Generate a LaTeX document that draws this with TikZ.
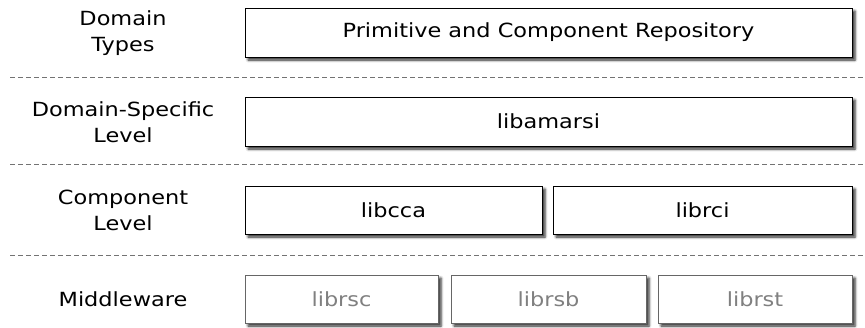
\documentclass[tikz,border=0pt]{standalone}
\usepackage{fontspec}
\setmainfont{DejaVu Sans}[FakeStretch=1.15]
\usetikzlibrary{shadows.blur}

\tikzset{
  layerbox/.style = {draw, line width=1pt, fill=white, inner sep=0pt,
    font=\fontsize{19.5}{26}\selectfont,
    blur shadow={shadow xshift=3pt, shadow yshift=-3pt, shadow blur radius=2.5pt, shadow opacity=85}},
  greybox/.style = {layerbox, draw=black!60, text=black!50},
  levellabel/.style = {align=center, font=\fontsize{19.5}{26}\selectfont},
  separator/.style = {dashed, dash pattern=on 5pt off 3pt, black!55, line width=0.8pt}
}

\begin{document}
\begin{tikzpicture}[x=1pt, y=-1pt]
    \useasboundingbox (0,0) rectangle (865,327);

    % level names
    \node[levellabel] (types-label) at (123,33) {Domain\\Types};
    \node[levellabel] (specific-label) at (123,122) {Domain-Specific\\Level};
    \node[levellabel] (component-label) at (123,210) {Component\\Level};
    \node[levellabel] (middleware-label) at (123,299) {Middleware};

    % libraries
    \node[layerbox, minimum width=607pt, minimum height=49pt] (repo) at (548.5,32.5) {Primitive and Component Repository};
    \node[layerbox, minimum width=607pt, minimum height=49pt] (amarsi) at (548.5,121.5) {libamarsi};
    \node[layerbox, minimum width=297pt, minimum height=48pt] (cca) at (393.5,210) {libcca};
    \node[layerbox, minimum width=299pt, minimum height=48pt] (rci) at (702.5,210) {librci};
    \node[greybox, minimum width=193pt, minimum height=48pt] (rsc) at (341.5,299) {librsc};
    \node[greybox, minimum width=195pt, minimum height=48pt] (rsb) at (548.5,299) {librsb};
    \node[greybox, minimum width=194pt, minimum height=48pt] (rst) at (755,299) {librst};

    \draw[separator] (10,77) -- (865,77);
    \draw[separator] (10,164) -- (865,164);
    \draw[separator] (10,255) -- (865,255);
  \end{tikzpicture}
\end{document}
